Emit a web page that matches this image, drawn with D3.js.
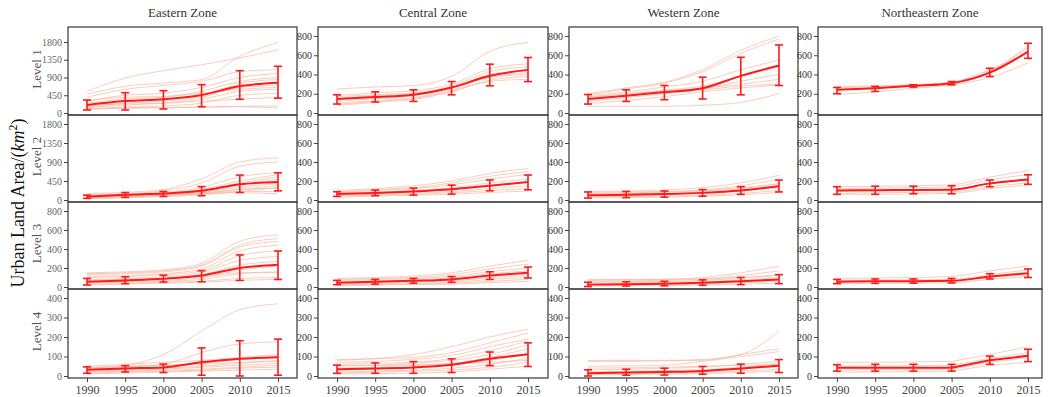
<!DOCTYPE html>
<html>
<head>
<meta charset="utf-8">
<script src="https://cdn.jsdelivr.net/npm/d3@7"></script>
<style>
body{margin:0;background:#fff;}
svg{display:block;font-family:"Liberation Serif","Times New Roman",serif;}
</style>
</head>
<body>
<svg id="chart" width="1048" height="397"></svg>
<script>
(function(){
"use strict";

var years = [1990,1995,2000,2005,2010,2015];
var zones = ["Eastern Zone","Central Zone","Western Zone","Northeastern Zone"];
var levels = ["Level 1","Level 2","Level 3","Level 4"];

// y tick labels per row (first entry is the Eastern column, second the others)
var ticksWide = [0,450,900,1350,1800];
var ticks800 = [0,200,400,600,800];
var ticks400 = [0,100,200,300,400];

// mean / lower / upper per zone for each level
var level1Mean = [[203,304,347,456,684,768],[145,165,189,265,386,448],[145,180,217,258,386,493],[241,258,282,310,420,637]];
var level1Low  = [[76,76,101,160,347,375],[93,114,120,189,282,327],[93,120,138,145,189,286],[200,224,269,293,379,568]];
var level1High = [[330,515,566,718,1073,1184],[189,220,241,327,507,576],[192,241,286,372,579,707],[265,276,293,327,465,724]];

var level2Mean = [[78,124,155,217,372,427],[62,73,90,114,149,190],[50,55,62,75,100,145],[100,103,105,108,175,215]];
var level2Low  = [[39,62,85,101,178,217],[38,45,52,62,97,107],[20,25,30,40,60,85],[60,60,65,65,140,165]];
var level2High = [[116,178,202,318,590,644],[87,104,125,156,211,263],[85,90,95,110,140,210],[140,145,145,150,210,265]];

var level3Mean = [[55,69,86,121,200,234],[45,55,65,80,120,150],[25,30,35,45,60,80],[55,60,60,65,110,145]];
var level3Low  = [[21,35,52,55,69,79],[25,30,40,50,80,95],[5,10,12,18,25,35],[35,38,40,42,85,100]];
var level3High = [[90,107,124,172,338,379],[70,80,90,110,160,210],[50,55,60,75,100,130],[80,85,85,90,140,190]];

var level4Mean = [[32,39,44,70,88,96],[35,39,44,58,88,111],[14,18,21,26,39,53],[42,42,42,42,81,104]];
var level4Low  = [[14,21,18,4,0,4],[14,14,14,18,53,49],[0,4,5,9,14,18],[25,25,25,25,60,74]];
var level4High = [[47,53,61,144,181,189],[56,67,74,88,123,170],[32,35,40,49,61,84],[58,60,60,60,102,137]];

// individual city curves (faint lines)
var level1Cities = [
  [[550,888,1073,1225,1394,1605],[480,676,760,845,1436,1790],[400,600,700,800,1050,1100],[300,450,500,650,900,1000],
   [250,350,400,550,800,900],[200,300,350,450,750,850],[150,250,300,400,650,700],[300,400,420,500,600,650],
   [150,200,250,350,550,600],[100,150,180,250,450,500],[100,120,130,150,170,180],[120,130,140,150,160,130],[200,230,250,300,350,400]],
  [[250,270,285,380,640,735],[180,210,230,300,460,510],[150,180,200,280,430,480],[120,150,180,260,400,440],
   [100,130,160,240,370,400],[80,110,140,220,340,380],[170,190,210,270,370,420],[90,120,150,230,330,350]],
  [[200,260,320,450,650,800],[190,250,310,430,620,770],[180,220,270,330,450,550],[160,200,240,280,380,480],
   [140,180,210,250,330,400],[120,160,200,240,280,300],[100,130,170,220,260,290],[70,70,70,80,110,200],[170,200,230,260,300,350]],
  [[270,285,295,320,430,700],[260,275,290,315,440,680],[240,265,285,320,450,620],[190,220,255,290,370,520]]
];
var level2Cities = [
  [[150,180,250,500,900,1000],[120,150,220,400,800,900],[100,130,180,300,550,650],[80,120,160,250,450,600],
   [60,100,140,220,400,550],[90,120,150,200,350,500],[50,80,120,180,300,400],[40,70,100,150,250,350],
   [30,50,80,120,200,300],[60,90,110,150,200,200],[100,120,140,160,170,150],[70,100,130,170,250,280]],
  [[100,120,150,200,280,330],[90,110,130,180,250,300],[80,100,120,160,220,270],[70,85,100,130,180,220],
   [60,75,90,110,150,190],[50,60,70,90,120,150],[40,50,60,75,100,120],[30,40,50,60,80,95]],
  [[90,95,105,130,180,260],[70,75,85,105,150,220],[60,65,75,90,120,170],[40,45,55,70,95,130],
   [30,35,40,50,70,100],[20,25,30,40,55,80],[80,85,90,100,130,170]],
  [[140,145,150,160,240,310],[120,125,130,140,210,270],[90,95,100,110,170,210],[70,75,80,85,140,180],[60,60,65,70,120,160]]
];
var level3Cities = [
  [[150,160,180,250,480,550],[140,150,170,230,440,510],[130,140,160,220,420,480],[110,120,140,190,380,440],
   [100,110,130,170,330,380],[80,90,110,150,280,320],[60,70,90,130,230,270],[50,60,70,100,180,220],
   [40,50,60,80,140,160],[30,40,50,60,90,100],[20,30,40,50,70,80],[70,80,90,110,150,150]],
  [[90,100,115,150,220,280],[80,90,100,130,190,240],[70,80,90,110,160,200],[60,65,75,95,140,170],
   [50,55,65,80,120,140],[40,45,55,65,100,120],[30,35,40,50,80,100],[20,25,30,40,60,80],[15,20,25,30,45,60]],
  [[70,75,80,100,150,220],[60,65,70,85,120,170],[50,55,60,70,95,130],[40,42,48,55,75,100],
   [30,33,38,45,60,80],[20,22,26,32,45,60],[10,12,15,20,30,40],[80,80,82,85,100,120]],
  [[90,95,100,110,170,220],[70,72,75,80,130,180],[50,55,55,60,100,130],[35,38,40,45,80,110]]
];
var level4Cities = [
  [[40,55,110,230,340,370],[35,45,60,120,165,175],[50,60,70,80,95,110],[40,50,55,65,85,100],[30,35,40,50,65,80],
   [25,30,35,45,55,65],[20,25,30,35,45,55],[15,20,25,30,40,45],[10,15,20,25,30,35],[45,50,55,60,70,75]],
  [[80,90,110,150,200,240],[85,88,95,120,170,220],[70,75,85,105,150,190],[60,65,70,90,130,180],[50,55,65,80,110,160],
   [40,45,55,65,95,140],[30,35,45,55,80,110],[20,25,30,40,60,90],[15,20,25,30,45,70],[10,12,15,20,35,50],[55,55,58,62,70,80]],
  [[80,80,80,85,110,230],[75,75,78,80,110,140],[50,52,55,75,100,125],[30,35,40,45,60,75],[20,25,28,32,45,65],
   [15,18,20,25,35,50],[10,12,15,18,25,35],[5,8,10,12,18,25],[40,42,45,50,55,60]],
  [[70,70,72,75,110,150],[50,52,52,55,90,120],[30,32,32,35,70,95],[20,20,22,25,55,70]]
];

var means = [level1Mean,level2Mean,level3Mean,level4Mean];
var lows = [level1Low,level2Low,level3Low,level4Low];
var highs = [level1High,level2High,level3High,level4High];
var cities = [level1Cities,level2Cities,level3Cities,level4Cities];

var colLeft = [68,318,569,818];
var colWidth = [229,230,229,224];
var rowTop = [27,115,202,289];
var rowHeight = [88,87,87,89];

var svg = d3.select("#chart");

function tickSet(r,c){
  if(r===3) return ticks400;
  if(c===0 && r<2) return ticksWide;
  return ticks800;
}

for(var r=0;r<4;r++){
  for(var c=0;c<4;c++){
    var w = colWidth[c], h = rowHeight[r];
    var tks = tickSet(r,c);
    var topOff = (r===0 && c===0) ? 15 : 9;
    var x = d3.scaleLinear().domain([1990,2015]).range([19,210]);
    var y = d3.scaleLinear().domain([0,tks[tks.length-1]]).range([h-2,topOff]);
    var g = svg.append("g").attr("transform","translate("+colLeft[c]+","+rowTop[r]+")");

    var curve = (r===3 && c===3) ? d3.curveLinear : d3.curveMonotoneX;
    var line = d3.line().curve(curve).x(function(d,i){return x(years[i]);}).y(function(d){return y(d);});

    g.selectAll("path.city").data(cities[r][c]).enter().append("path")
      .attr("class","city")
      .attr("d",line)
      .attr("fill","none")
      .attr("stroke","#f5b49c")
      .attr("stroke-opacity",0.65)
      .attr("stroke-width",1);

    g.append("path").datum(means[r][c])
      .attr("d",line)
      .attr("fill","none")
      .attr("stroke","#ff1a1a")
      .attr("stroke-width",2);

    var eb = g.selectAll("g.err").data(years).enter().append("g").attr("class","err");
    var lo = lows[r][c], hi = highs[r][c];
    var cap = 4;
    eb.append("line")
      .attr("x1",function(d){return x(d);}).attr("x2",function(d){return x(d);})
      .attr("y1",function(d,i){return y(lo[i]);}).attr("y2",function(d,i){return y(hi[i]);});
    eb.append("line")
      .attr("x1",function(d){return x(d)-cap;}).attr("x2",function(d){return x(d)+cap;})
      .attr("y1",function(d,i){return y(lo[i]);}).attr("y2",function(d,i){return y(lo[i]);});
    eb.append("line")
      .attr("x1",function(d){return x(d)-cap;}).attr("x2",function(d){return x(d)+cap;})
      .attr("y1",function(d,i){return y(hi[i]);}).attr("y2",function(d,i){return y(hi[i]);});
    eb.selectAll("line").attr("stroke","#ff1a1a").attr("stroke-width",1.6);

    var yAxis = g.append("g").call(d3.axisLeft(y).tickValues(tks).tickFormat(d3.format("d")).tickSize(4).tickPadding(2).tickSizeOuter(0));
    yAxis.select(".domain").remove();
    yAxis.selectAll("line").attr("stroke","#444");
    yAxis.selectAll("text")
      .attr("font-family","Liberation Serif, serif")
      .attr("font-size","10px")
      .attr("fill",c===0 ? "#666" : "#333");

    if(r===3){
      var xAxis = g.append("g").attr("transform","translate(0,"+h+")")
        .call(d3.axisBottom(x).tickValues(years).tickFormat(d3.format("d")).tickSize(4).tickSizeOuter(0));
      xAxis.select(".domain").remove();
      xAxis.selectAll("line").attr("stroke","#444");
      xAxis.selectAll("text")
        .attr("font-family","Liberation Serif, serif")
        .attr("font-size","12px")
        .attr("fill","#444");
    }

    g.append("rect").attr("width",w).attr("height",h)
      .attr("fill","none").attr("stroke","#444").attr("stroke-width",1.3);

    if(r===0){
      svg.append("text")
        .attr("x",colLeft[c]+w/2).attr("y",17)
        .attr("text-anchor","middle")
        .attr("font-size","13px")
        .attr("fill","#333")
        .text(zones[c]);
    }
    if(c===0){
      svg.append("text")
        .attr("transform","translate(41,"+(rowTop[r]+h/2-2)+") rotate(-90)")
        .attr("text-anchor","middle")
        .attr("font-size","13px")
        .attr("fill","#555")
        .text(levels[r]);
    }
  }
}

var title = svg.append("text")
  .attr("transform","translate(24,203) rotate(-90)")
  .attr("text-anchor","middle")
  .attr("font-size","18px")
  .attr("fill","#111");
title.append("tspan").text("Urban Land Area/(");
title.append("tspan").attr("font-style","italic").text("km");
title.append("tspan").attr("font-size","12px").attr("dy","-7").text("2");
title.append("tspan").attr("dy","7").text(")");

})();
</script>
</body>
</html>
